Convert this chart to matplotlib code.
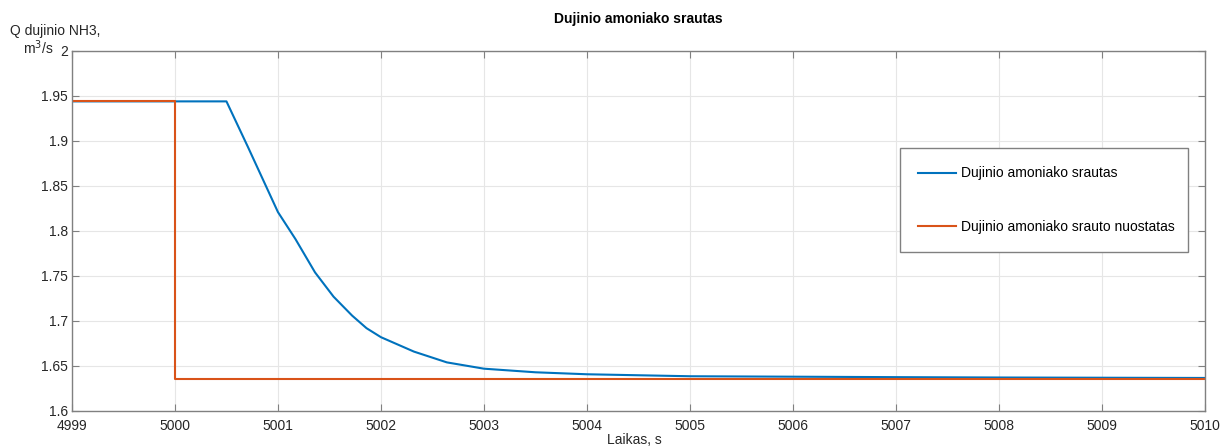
import matplotlib.pyplot as plt

plt.rcParams['font.family'] = ['Liberation Sans', 'DejaVu Sans']

t_flow = [4999, 5000.0, 5000.50, 5000.71, 5001.0, 5001.17, 5001.36, 5001.54, 5001.72,
          5001.86, 5002.0, 5002.32, 5002.64, 5003.0, 5003.5, 5004.0, 5005.0, 5006.0,
          5007.0, 5008.0, 5010.0]
q_flow = [1.944, 1.944, 1.944, 1.893, 1.821, 1.791, 1.754, 1.727, 1.706,
          1.692, 1.682, 1.666, 1.654, 1.647, 1.643, 1.6408, 1.6386, 1.6381,
          1.6376, 1.6372, 1.6367]

# orange: setpoint step
t_set = [4999, 5000, 5000, 5010]
q_set = [1.944, 1.944, 1.636, 1.636]

yticks = [1.6, 1.65, 1.7, 1.75, 1.8, 1.85, 1.9, 1.95, 2.0]
ytick_labels = ['1.6', '1.65', '1.7', '1.75', '1.8', '1.85', '1.9', '1.95', '2']
xticks = list(range(4999, 5011))

fig = plt.figure(figsize=(12.3, 4.46), dpi=100)
ax = fig.add_axes([0.0585, 0.0785, 0.9211, 0.8072])

ax.plot(t_flow, q_flow, color='#0072BD', lw=1.5, label='Dujinio amoniako srautas')
ax.plot(t_set, q_set, color='#D95319', lw=1.5, label='Dujinio amoniako srauto nuostatas')

ax.set_xlim(4999, 5010)
ax.set_ylim(1.6, 2.0)
ax.set_xticks(xticks)
ax.set_xticklabels([str(x) for x in xticks])
ax.set_yticks(yticks)
ax.set_yticklabels(ytick_labels)
ax.grid(True, color='#e6e6e6', lw=0.8)
ax.set_axisbelow(True)
ax.tick_params(direction='in', top=True, right=True, length=5, colors='#808080',
               labelcolor='#262626', labelsize=10)
ax.tick_params(axis='x', pad=6)
ax.tick_params(axis='y', pad=3)
for s in ax.spines.values():
    s.set_color('#808080')
    s.set_linewidth(1.0)

ax.set_title('Dujinio amoniako srautas', fontsize=10, fontweight='bold', pad=20)
fig.text(0.516, -0.003, 'Laikas, s', fontsize=10, color='#262626', ha='center', va='bottom')
fig.text(0.0085, 0.915, 'Q dujinio NH3,', fontsize=10, color='#262626', ha='left', va='bottom')
fig.text(0.0185, 0.872, 'm$^3$/s', fontsize=10, color='#262626', ha='left', va='bottom')

leg = ax.legend(loc='center', bbox_to_anchor=(0.731, 0.427, 0.254, 0.317), mode='expand',
                fontsize=10, labelspacing=2.85, borderpad=1.3, handlelength=2.7,
                handletextpad=0.35, borderaxespad=0, fancybox=False, framealpha=1,
                edgecolor='#808080')
leg.get_frame().set_linewidth(1.0)
leg._legend_box.align = 'left'

fig.savefig('out.png', dpi=100)
